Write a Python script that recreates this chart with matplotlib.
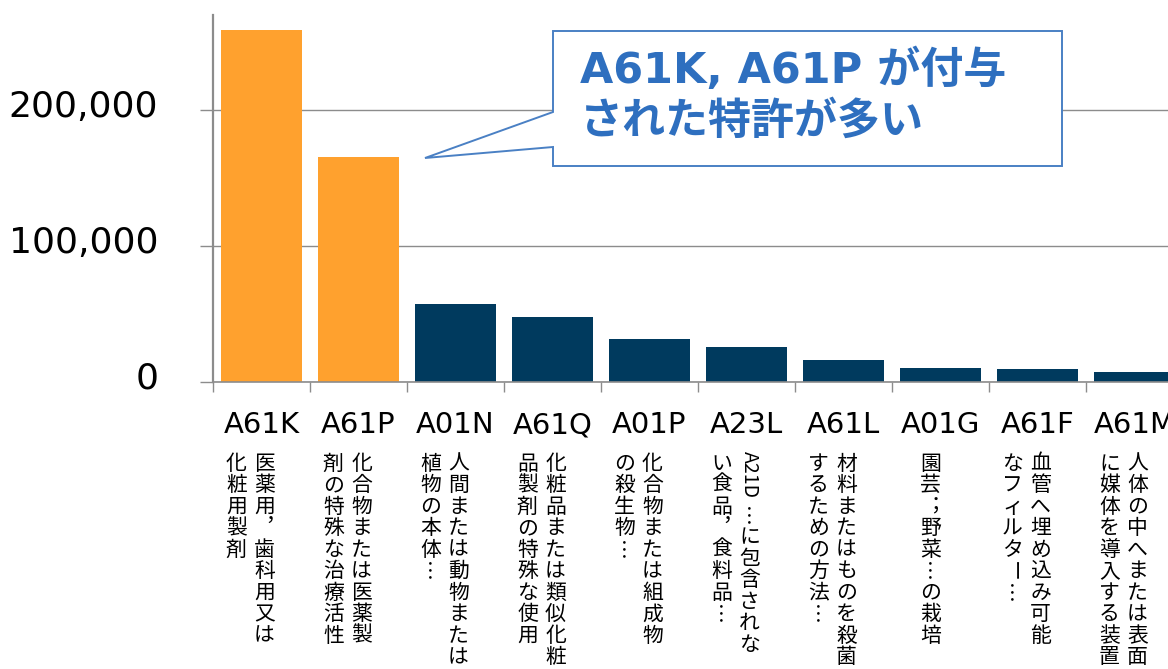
import re

import matplotlib
matplotlib.use("Agg")
import matplotlib.pyplot as plt
from matplotlib.patches import Polygon
from matplotlib.transforms import ScaledTranslation

# ── data ────────────────────────────────────────────────────────────────
codes = ["A61K", "A61P", "A01N", "A61Q", "A01P", "A23L", "A61L", "A01G", "A61F", "A61M"]
counts = [258800, 165400, 57400, 47800, 31600, 25700, 16200, 10300, 9600, 7400]
highlight = [True, True, False, False, False, False, False, False, False, False]

# description of each code, split into vertical columns (read right to left)
desc_cols = [
    ["医薬用，歯科用又は", "化粧用製剤"],
    ["化合物または医薬製", "剤の特殊な治療活性"],
    ["人間または動物または", "植物の本体…"],
    ["化粧品または類似化粧", "品製剤の特殊な使用"],
    ["化合物または組成物", "の殺生物…"],
    ["A21D…に包含されな", "い食品，食料品…"],
    ["材料またはものを殺菌", "するための方法…"],
    ["園芸；野菜…の栽培"],
    ["血管へ埋め込み可能", "なフィルター…"],
    ["人体の中へまたは表面", "に媒体を導入する装置"],
]

callout_lines = ["A61K, A61P が付与", "された特許が多い"]

ORANGE = "#FFA12E"
NAVY = "#003A5E"
GREY = "#8c8c8c"
BLUE = "#2E6FBF"
JP = ["Noto Sans CJK JP", "DejaVu Sans"]
LATIN_JP = ["DejaVu Sans", "Noto Sans CJK JP"]

# vertical presentation forms for punctuation
VERT = {"，": "︐", "…": "︙", "；": "︔"}

W, H = 1168, 669
fig = plt.figure(figsize=(W / 100, H / 100), dpi=100)
ax = fig.add_axes([213 / W, 1 - 382 / H, 970 / W, 367 / H])

x = list(range(len(codes)))
colors = [ORANGE if h else NAVY for h in highlight]
ax.bar(x, counts, width=0.835, color=colors, zorder=2)

ax.set_xlim(-0.5, len(codes) - 0.5)
ax.set_ylim(0, 270000)

ax.set_yticks([0, 100000, 200000])
ax.set_yticklabels([f"{v:,}" for v in [0, 100000, 200000]], fontsize=26,
                   family="DejaVu Sans")
ax.tick_params(axis="y", length=9.4, width=1.0, color=GREY, pad=30)
for lab in ax.get_yticklabels():
    lab.set_transform(lab.get_transform() + ScaledTranslation(0, 0.07, fig.dpi_scale_trans))
ax.yaxis.grid(True, color=GREY, linewidth=1.0, zorder=0)
ax.set_axisbelow(True)

ax.set_xticks(x)
ax.set_xticklabels(codes, fontsize=21, family="DejaVu Sans", va="baseline")
ax.tick_params(axis="x", which="major", length=0, pad=37)
ax.set_xticks([i - 0.5 for i in range(len(codes) + 1)], minor=True)
ax.tick_params(axis="x", which="minor", length=7.2, width=1.0, color=GREY)

for side in ["top", "right"]:
    ax.spines[side].set_visible(False)
ax.spines["left"].set_color(GREY)
ax.spines["left"].set_linewidth(1.6)
ax.spines["bottom"].set_color(GREY)
ax.spines["bottom"].set_linewidth(1.2)

# ── vertical Japanese descriptions ──────────────────────────────────────
STEP = 21.5     # px per character cell
TOP = 71        # px below the axis line where the first cell starts
xtrans = ax.get_xaxis_transform()


def put(i, dx, dy, s, rot=0, size=15):
    ax.annotate(s, xy=(i, 0), xycoords=xtrans, xytext=(dx, -dy),
                textcoords="offset pixels", ha="center", va="center",
                rotation=rot, fontsize=size, family=JP, annotation_clip=False)


for i, cols in enumerate(desc_cols):
    offsets = [-10] if len(cols) == 1 else [3, -25]
    for col, dx in zip(cols, offsets):
        y = TOP
        for tok in re.findall(r"[A-Za-z0-9]+|.", col):
            if tok.isascii():
                w = len(tok) * 11
                put(i, dx, y + w / 2, tok, rot=-90, size=14)
                y += w + 8
            elif tok == "ー":
                put(i, dx, y + STEP / 2, tok, rot=-90)
                y += STEP
            else:
                put(i, dx, y + STEP / 2, VERT.get(tok, tok))
                y += STEP

# ── callout ─────────────────────────────────────────────────────────────
pts = [(553, 31), (1062, 31), (1062, 166), (553, 166), (553, 147), (425, 158), (553, 112)]
callout = Polygon([(px / W, 1 - py / H) for px, py in pts], closed=True,
                  transform=fig.transFigure, facecolor="white", edgecolor="#4A80C4",
                  linewidth=1.4, zorder=5)
fig.add_artist(callout)
for k, line in enumerate(callout_lines):
    fig.text(580 / W, 1 - (70 + 52 * k) / H, line, ha="left", va="center",
             fontsize=31, fontweight="bold", color=BLUE, family=LATIN_JP, zorder=6)

fig.savefig("out.png", dpi=100)
